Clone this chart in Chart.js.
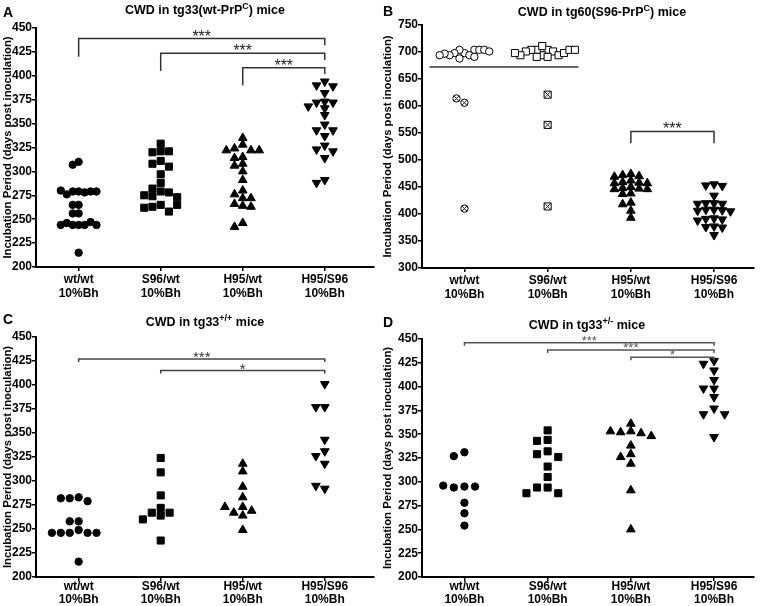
<!DOCTYPE html>
<html>
<head>
<meta charset="utf-8">
<script src="https://cdn.jsdelivr.net/npm/chart.js@4.4.1/dist/chart.umd.min.js"></script>
<style>
  body { margin: 0; background: #fff; width: 760px; height: 606px; position: relative; overflow: hidden; }
  canvas { position: absolute; }
</style>
</head>
<body>
<canvas id="pA" width="380" height="300" style="left:0;top:0"></canvas>
<canvas id="pB" width="380" height="300" style="left:380px;top:0"></canvas>
<canvas id="pC" width="380" height="306" style="left:0;top:300px"></canvas>
<canvas id="pD" width="380" height="306" style="left:380px;top:300px"></canvas>
<script>
const FONT = '"Liberation Sans", Arial, sans-serif'
Chart.defaults.font.family = FONT
Chart.defaults.color = '#000'

const groups = [['wt/wt', '10%Bh'], ['S96/wt', '10%Bh'], ['H95/wt', '10%Bh'], ['H95/S96', '10%Bh']]
const yTitle = 'Incubation Period (days post inoculation)'

// A: tg33 (wt-PrPC)
const aWt = [310, 307, 279, 279, 278, 276, 279, 280, 279, 265, 265, 256, 256, 244, 244, 244, 246, 247, 244, 244, 215]
const aS96 = [329, 321, 320, 321, 311, 308, 305, 297, 288, 282, 279, 278, 275, 274, 273, 265, 263, 258, 262, 265]
const aH95 = [335, 328, 324, 322, 322, 322, 315, 314, 308, 306, 300, 291, 280, 276, 272, 272, 266, 264, 263, 246, 242]
const aH95S96 = [394, 390, 389, 382, 373, 372, 372, 368, 366, 359, 349, 343, 343, 337, 327, 323, 321, 314, 291, 288]

// B: tg60 (S96-PrPC) - open symbols = survivors, crossed = no clinical signs
const bWtOpen = [698, 704, 694, 698, 704, 694, 704, 688, 697, 704, 694, 701, 691]
const bWtCross = [606, 614, 410]
const bS96Open = [704, 694, 701, 704, 694, 704, 698, 691, 711, 701, 691, 704, 694, 704, 698]
const bS96Cross = [621, 565, 414]
const bH95 = [474, 472, 470, 469, 462, 459, 458, 457, 457, 450, 448, 447, 446, 446, 438, 437, 421, 418, 406, 393]
const bH95S96 = [455, 453, 452, 434, 420, 420, 419, 419, 408, 408, 407, 406, 405, 392, 391, 390, 388, 377, 376, 375, 361]
const bCutoff = 672

// C: tg33 +/+
const cWt = [283, 282, 279, 282, 258, 258, 249, 246, 246, 246, 246, 246, 216]
const cS96 = [324, 309, 285, 272, 267, 264, 267, 260, 238]
const cH95 = [318, 310, 294, 283, 273, 267, 264, 269, 273, 249]
const cH95S96 = [401, 377, 377, 343, 331, 326, 318, 292, 295]

// D: tg33 +/-
const dWt = [331, 327, 295, 294, 295, 296, 278, 267, 254]
const dS96 = [354, 344, 343, 332, 329, 326, 316, 305, 294, 294, 288, 288]
const dH95 = [361, 353, 352, 351, 353, 348, 338, 329, 326, 319, 291, 250]
const dH95S96 = [427, 424, 417, 407, 398, 398, 389, 377, 371, 371, 347]

// prism-like column dot plot: push a point sideways while it overlaps one in the same column
function swarm(values, cat, gap, size, pxX, pxY) {
    const placed = []
    return values.map(v => {
        let k = 0
        for (let i = 0; i < 40; i++) {
            k = i === 0 ? 0 : (i % 2 ? -Math.ceil(i / 2) : Math.ceil(i / 2))
            if (!placed.some(p => p.k === k && Math.abs(p.v - v) * pxY < size)) break
        }
        placed.push({ k, v })
        return { x: cat + k * gap / pxX, y: v }
    })
}

const marker = {
    circle: { pointStyle: 'circle', pointRadius: 3.7, size: 6.5 },
    square: { pointStyle: 'rect', pointRadius: 5, size: 7 },
    up: { pointStyle: 'triangle', pointRadius: 5, size: 6.5 },
    down: { pointStyle: 'triangle', pointRadius: 5, pointRotation: 180, size: 6.5 },
}

const overlay = {
    id: 'overlay',
    afterDatasetsDraw(chart, args, o) {
        const { ctx } = chart
        const x = chart.scales.x, y = chart.scales.y
        ctx.save()
        ctx.fillStyle = '#000'
        ctx.textBaseline = 'alphabetic'
        ctx.textAlign = 'left'
        ctx.font = 'bold 14px ' + FONT
        ctx.fillText(o.letter, 3, o.letterY)

        // title with superscript
        const [main, sup, tail] = o.title
        const big = 'bold 12.5px ' + FONT, small = 'bold 9px ' + FONT
        ctx.font = big
        const w1 = ctx.measureText(main).width, w3 = ctx.measureText(tail).width
        ctx.font = small
        const w2 = ctx.measureText(sup).width
        let tx = o.titleX - (w1 + w2 + w3) / 2
        ctx.font = big
        ctx.fillText(main, tx, o.titleY)
        ctx.font = small
        ctx.fillText(sup, tx + w1, o.titleY - 5)
        ctx.font = big
        ctx.fillText(tail, tx + w1 + w2, o.titleY)

        // significance bars
        ctx.strokeStyle = o.barColor
        ctx.lineWidth = 1.5
        ctx.textAlign = 'center'
        o.brackets.forEach(([c1, c2, ly, l1, l2, stars]) => {
            const x1 = x.getPixelForValue(c1), x2 = x.getPixelForValue(c2), py = y.getPixelForValue(ly)
            ctx.beginPath()
            ctx.moveTo(x1, l1 ? y.getPixelForValue(l1) : py + 3)
            ctx.lineTo(x1, py)
            ctx.lineTo(x2, py)
            ctx.lineTo(x2, l2 ? y.getPixelForValue(l2) : py + 3)
            ctx.stroke()
            ctx.fillStyle = o.starColor
            ctx.font = o.starFont + ' ' + FONT
            ctx.fillText(stars, (x1 + x2) / 2, py + o.starDy)
        })
        ctx.restore()
    }
}

function makePanel(id, p) {
    const canvas = document.getElementById(id)
    const W = canvas.width, H = canvas.height
    const pxX = (p.area.right - p.area.left) / (p.xMax - p.xMin)
    const pxY = (p.area.bottom - p.area.top) / (p.yMax - p.yMin)
    // first dataset is painted last, so crosses listed before their open symbol sit on top
    const datasets = p.series.map(s => {
        const m = marker[s.shape]
        return {
            data: swarm(s.values, s.cat, s.gap, s.size || m.size, pxX, pxY),
            pointStyle: s.cross ? 'crossRot' : m.pointStyle,
            pointRadius: s.cross ? s.crossR : m.pointRadius,
            pointRotation: m.pointRotation || 0,
            backgroundColor: s.open ? '#fff' : '#000',
            borderColor: s.cross ? '#222' : '#000',
            borderWidth: 1,
            pointHoverRadius: 0,
        }
    })
    ;(p.lines || []).forEach(l => datasets.push({
        type: 'line', data: l, showLine: true, pointRadius: 0,
        borderColor: '#333', borderWidth: 1.5,
    }))
    return new Chart(canvas, {
        type: 'scatter',
        data: { datasets },
        options: {
            responsive: false,
            animation: false,
            events: [],
            layout: { padding: { left: 0, top: p.area.top, right: W - p.area.right, bottom: 0 } },
            plugins: {
                legend: { display: false },
                tooltip: { enabled: false },
                overlay: p.overlay,
            },
            scales: {
                x: {
                    type: 'linear',
                    min: p.xMin,
                    max: p.xMax,
                    afterBuildTicks: (scale) => { scale.ticks = [1, 2, 3, 4].map(value => ({ value })) },
                    afterFit: (scale) => { scale.height = H - p.area.bottom },
                    grid: { drawOnChartArea: false, drawTicks: true, tickLength: 4, color: '#000', lineWidth: 1.5 },
                    border: { color: '#000', width: 2 },
                    ticks: {
                        callback: (v) => groups[v - 1] || '',
                        font: { size: 12, weight: 'bold', lineHeight: p.labelLine },
                        padding: p.labelPad,
                        maxRotation: 0,
                        autoSkip: false,
                    },
                },
                y: {
                    min: p.yMin,
                    max: p.yMax,
                    afterFit: (scale) => { scale.width = p.area.left },
                    grid: { drawOnChartArea: false, drawTicks: true, tickLength: 4, color: '#000', lineWidth: 1.5 },
                    border: { color: '#000', width: 2 },
                    ticks: { stepSize: p.step, font: { size: 12, weight: 'bold' }, padding: 0 },
                    title: {
                        display: true, text: yTitle,
                        font: { size: 11.3, weight: 'bold' },
                        padding: { top: 1, bottom: 0 },
                    },
                },
            },
        },
        plugins: [overlay],
    })
}

makePanel('pA', {
    area: { left: 36, top: 28, right: 377, bottom: 267 },
    xMin: 0.48, xMax: 4.6, yMin: 200, yMax: 450, step: 25, labelLine: 1.17, labelPad: 2,
    series: [
        { values: aWt, cat: 1, shape: 'circle', gap: 6 },
        { values: aS96, cat: 2, shape: 'square', gap: 8.3 },
        { values: aH95, cat: 3, shape: 'up', gap: 8.3 },
        { values: aH95S96, cat: 4, shape: 'down', gap: 8.3 },
    ],
    overlay: {
        letter: 'A', letterY: 17, title: ['CWD in tg33(wt-PrP', 'C', ') mice'], titleX: 205, titleY: 14,
        barColor: '#333', starColor: '#222', starFont: '16px', starDy: 3,
        brackets: [[1, 4, 439, 420, 432, '***'], [2, 4, 423.5, 405, 416.5, '***'], [3, 4, 408.5, 390, 402, '***']],
    },
})

makePanel('pB', {
    area: { left: 42, top: 25, right: 377, bottom: 268 },
    xMin: 0.49, xMax: 4.48, yMin: 300, yMax: 750, step: 50, labelLine: 1.17, labelPad: 2,
    series: [
        { values: bWtCross, cat: 1, shape: 'circle', gap: 8, cross: true, crossR: 3.4 },
        { values: bWtCross, cat: 1, shape: 'circle', gap: 8, open: true },
        { values: bWtOpen, cat: 1, shape: 'circle', gap: 5, open: true },
        { values: bS96Cross, cat: 2, shape: 'square', gap: 8, cross: true, crossR: 4.9 },
        { values: bS96Cross, cat: 2, shape: 'square', gap: 8, open: true },
        { values: bS96Open, cat: 2, shape: 'square', gap: 5.5, open: true },
        { values: bH95, cat: 3, shape: 'up', gap: 8.3, size: 5.5 },
        { values: bH95S96, cat: 4, shape: 'down', gap: 8.3, size: 5.5 },
    ],
    lines: [[{ x: 0.58, y: bCutoff }, { x: 2.37, y: bCutoff }]],
    overlay: {
        letter: 'B', letterY: 16, title: ['CWD in tg60(S96-PrP', 'C', ') mice'], titleX: 222, titleY: 16,
        barColor: '#333', starColor: '#222', starFont: '16px', starDy: 3,
        brackets: [[3, 4, 553, 531, 531, '***']],
    },
})

makePanel('pC', {
    area: { left: 36, top: 37, right: 377, bottom: 277 },
    xMin: 0.48, xMax: 4.6, yMin: 200, yMax: 450, step: 25, labelLine: 1.08, labelPad: -1,
    series: [
        { values: cWt, cat: 1, shape: 'circle', gap: 9 },
        { values: cS96, cat: 2, shape: 'square', gap: 9 },
        { values: cH95, cat: 3, shape: 'up', gap: 9 },
        { values: cH95S96, cat: 4, shape: 'down', gap: 9 },
    ],
    overlay: {
        letter: 'C', letterY: 24, title: ['CWD in tg33', '+/+', ' mice'], titleX: 205, titleY: 26,
        barColor: '#444', starColor: '#333', starFont: '15px', starDy: 3,
        brackets: [[1, 4, 427, 0, 0, '***'], [2, 4, 415, 0, 0, '*']],
    },
})

makePanel('pD', {
    area: { left: 42, top: 39, right: 377, bottom: 277 },
    xMin: 0.49, xMax: 4.48, yMin: 200, yMax: 450, step: 25, labelLine: 1.08, labelPad: -1,
    series: [
        { values: dWt, cat: 1, shape: 'circle', gap: 10.7 },
        { values: dS96, cat: 2, shape: 'square', gap: 10.7 },
        { values: dH95, cat: 3, shape: 'up', gap: 10.3 },
        { values: dH95S96, cat: 4, shape: 'down', gap: 10.7 },
    ],
    overlay: {
        letter: 'D', letterY: 27, title: ['CWD in tg33', '+/-', ' mice'], titleX: 207, titleY: 29,
        barColor: '#555', starColor: '#555', starFont: '13px', starDy: 2,
        brackets: [[1, 4, 446, 0, 0, '***'], [2, 4, 438.4, 0, 0, '***'], [3, 4, 430.8, 0, 0, '*']],
    },
})
</script>
</body>
</html>
